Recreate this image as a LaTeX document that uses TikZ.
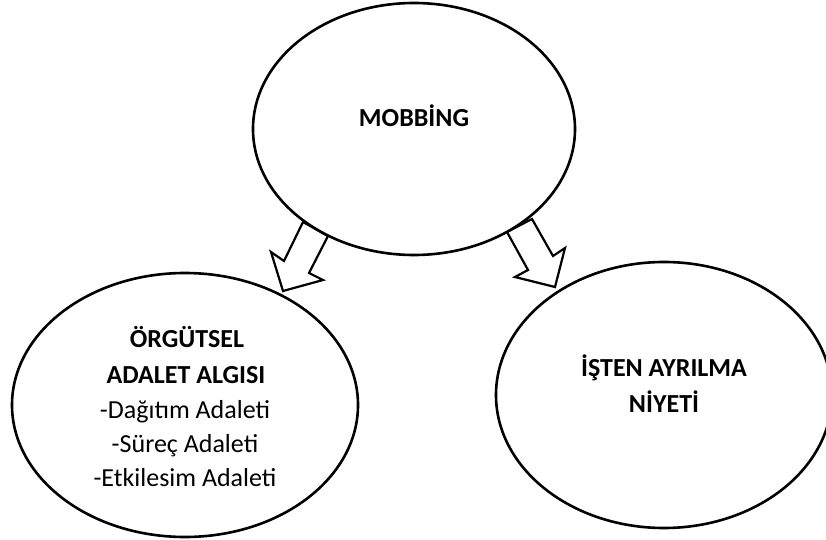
\documentclass[tikz,border=0pt]{standalone}
\usepackage{fontspec}
\setmainfont{Carlito}
\usetikzlibrary{shapes.geometric}
\tikzset{
  bubble/.style={ellipse, draw, line width=1.3pt, inner sep=0pt, fill=white},
  blockarrow/.style={draw, line width=1.1pt, fill=white, line join=miter},
  title/.style={anchor=base, inner sep=0pt, font=\fontsize{13pt}{17pt}\selectfont\bfseries},
  item/.style={anchor=base, inner sep=0pt, font=\fontsize{13pt}{17pt}\selectfont}
}
\begin{document}
\begin{tikzpicture}[x=0.5pt, y=-0.5pt]
\useasboundingbox (0,0) rectangle (826,540);
% block arrows
\draw[blockarrow] (303,222) -- (328,236) -- (309,273) -- (323,280) -- (283,291) -- (271,252) -- (284,261) -- cycle;
\draw[blockarrow] (507,232) -- (532,219) -- (553,256) -- (565,248) -- (555,287) -- (515,277) -- (528,270) -- cycle;
% ellipses
\node[bubble, minimum width=161pt, minimum height=126pt] (mob) at (414,129) {};
\node[bubble, minimum width=173pt, minimum height=132pt] (oag) at (185,405) {};
\node[bubble, minimum width=168pt, minimum height=133pt] (iay) at (664,395) {};
% texts
\node[title] (t1) at (414,127) {MOBBİNG};
\node[title] (l1) at (187,348) {ÖRGÜTSEL};
\node[title] (l2) at (186,383) {ADALET ALGISI};
\node[item] (l3) at (185,418) {-Dağıtım Adaleti};
\node[item] (l4) at (185,452) {-Süreç Adaleti};
\node[item] (l5) at (185,486) {-Etkilesim Adaleti};
\node[title] (r1) at (664,377) {İŞTEN AYRILMA};
\node[title] (r2) at (664,412) {NİYETİ};
\end{tikzpicture}
\end{document}
